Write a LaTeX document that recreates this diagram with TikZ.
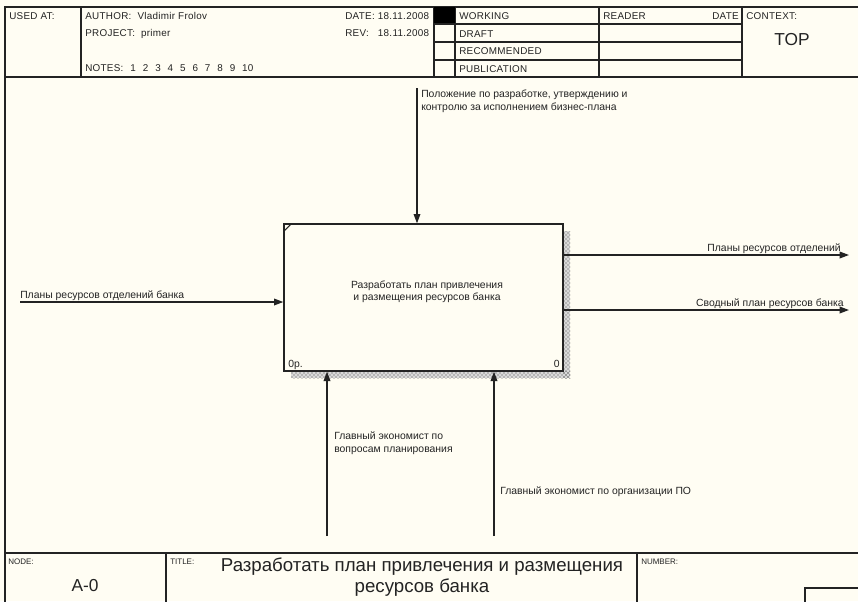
\documentclass[tikz,border=0pt]{standalone}
\usepackage{fontspec}
\setmainfont{Liberation Sans}
\newfontfamily\uifont[LetterSpace=3]{Liberation Sans}
\usetikzlibrary{arrows.meta,patterns}
\definecolor{paper}{RGB}{255,253,243}
\definecolor{ink}{RGB}{35,35,35}
\newcommand{\nsp}{\hspace{5.2pt}}
\begin{document}
\begin{tikzpicture}[x={(0.75pt,0)},y={(0,-0.75pt)},
  frame/.style={draw=ink,line width=1pt},
  thin/.style={draw=ink,line width=0.8pt},
  hdr/.style={font=\uifont\fontsize{7.4}{8.6}\selectfont,inner sep=0,anchor=base west,text=ink},
  lbl/.style={font=\fontsize{7.8}{9.2}\selectfont,inner sep=0,anchor=base west,text=ink},
  big/.style={font=\fontsize{13}{15}\selectfont,inner sep=0,text=ink},
  arr/.style={draw=ink,line width=1pt,-{Triangle[length=7pt,width=5pt]}},
  actbox/.style={draw=ink,line width=1pt,fill=paper,minimum width=209.25pt,minimum height=110.25pt,inner sep=0}]
\useasboundingbox (0,0) rectangle (858,601);
\fill[paper] (0,0) rectangle (858,601);
\clip (0,0) rectangle (858,601);
% header frame
\draw[frame] (5,610) -- (5,7) -- (862,7);
\draw[frame] (5,77) -- (862,77);
\draw[frame] (81,7) -- (81,77);
\draw[frame] (434,7) -- (434,77);
\draw[frame] (455,7) -- (455,77);
\draw[frame] (599,7) -- (599,77);
\draw[frame] (742,7) -- (742,77);
\fill[black] (434,7) rectangle (455,24);
\draw[thin] (434,24) -- (742,24);
\draw[thin] (434,42) -- (742,42);
\draw[thin] (434,60) -- (742,60);
\node[hdr] (usedat) at (9,19) {USED AT:};
\node[hdr] (author) at (85,19) {AUTHOR:\ \ Vladimir Frolov};
\node[hdr] (project) at (85,36) {PROJECT:\ \ primer};
\node[hdr] (notes) at (85,71) {NOTES:\nsp 1\nsp 2\nsp 3\nsp 4\nsp 5\nsp 6\nsp 7\nsp 8\nsp 9\nsp 10};
\node[hdr] (date) at (345,19) {DATE: 18.11.2008};
\node[hdr] (rev) at (345,36) {REV:\ \ \ 18.11.2008};
\node[hdr] (working) at (459,19) {WORKING};
\node[hdr] (draft) at (459,37) {DRAFT};
\node[hdr] (recommended) at (459,54) {RECOMMENDED};
\node[hdr] (publication) at (459,72) {PUBLICATION};
\node[hdr] (reader) at (603,19) {READER};
\node[hdr,anchor=base east] (rdate) at (739,19) {DATE};
\node[hdr] (context) at (746,19) {CONTEXT:};
\node[big] (top) at (792,40) {TOP};
% footer
\draw[frame] (5,553) -- (862,553);
\draw[frame] (166,553) -- (166,610);
\draw[frame] (637,553) -- (637,610);
\draw[frame] (805,610) -- (805,588) -- (862,588);
\node[hdr,font=\fontsize{6}{7}\selectfont] (nodelbl) at (8,564) {NODE:};
\node[hdr,font=\fontsize{6}{7}\selectfont] (titlelbl) at (170,564) {TITLE:};
\node[hdr,font=\fontsize{6}{7}\selectfont] (numberlbl) at (641,564) {NUMBER:};
\node[big] (nodeno) at (85,586) {A-0};
\node[big,align=center,font=\fontsize{14}{16}\selectfont] (title) at (422,577) {Разработать план привлечения и размещения\\ресурсов банка};
% activity box with shadow
\fill[black!15] (563,231) rectangle (570,378);
\fill[black!15] (291,371) rectangle (570,378);
\fill[pattern=crosshatch dots,pattern color=black!75] (563,231) rectangle (570,378);
\fill[pattern=crosshatch dots,pattern color=black!75] (291,371) rectangle (570,378);
\node[actbox] (box) at (423.5,297.5) {};
\draw[thin] (284,231) -- (291,224);
\node[lbl,anchor=center,align=center] (boxtext) at (427,291.5) {Разработать план привлечения\\и размещения ресурсов банка};
\node[lbl] (opcost) at (288,367) {0р.};
\node[lbl,anchor=base east] (boxno) at (560,367) {0};
% control
\coordinate (ctl) at (417,88);
\draw[arr] (ctl) -- (ctl |- box.north);
\node[lbl,align=left,anchor=north west] (ctllbl) at (421,90) {Положение по разработке, утверждению и\\контролю за исполнением бизнес-плана};
% input
\coordinate (inp) at (20,302);
\draw[arr] (inp) -- (inp -| box.west);
\node[lbl] (inplbl) at (20,298) {Планы ресурсов отделений банка};
% outputs
\coordinate (out1) at (849,255);
\coordinate (out2) at (849,310);
\draw[arr] (box.east |- out1) -- (out1);
\draw[arr] (box.east |- out2) -- (out2);
\node[lbl,anchor=base east] (out1lbl) at (841,251) {Планы ресурсов отделений};
\node[lbl,anchor=base east] (out2lbl) at (844,306) {Сводный план ресурсов банка};
% mechanisms
\coordinate (mech1) at (327,536);
\coordinate (mech2) at (494,536);
\draw[arr] (mech1) -- (mech1 |- box.south);
\draw[arr] (mech2) -- (mech2 |- box.south);
\node[lbl,align=left,anchor=north west] (mech1lbl) at (334,432) {Главный экономист по\\вопросам планирования};
\node[lbl] (mech2lbl) at (500,494) {Главный экономист по организации ПО};
\end{tikzpicture}
\end{document}
